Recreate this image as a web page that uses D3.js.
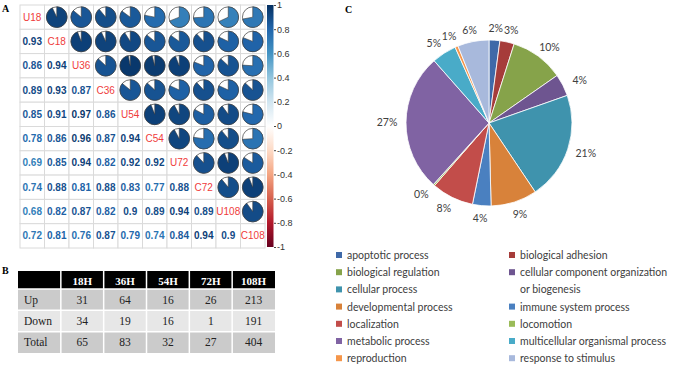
<!DOCTYPE html>
<html>
<head>
<meta charset="utf-8">
<script src="https://cdnjs.cloudflare.com/ajax/libs/d3/7.8.5/d3.min.js"></script>
<style>
	body { margin: 0; background: #fff; }
	svg { display: block; }
</style>
</head>
<body>
<svg id="fig" width="675" height="365"></svg>
<script>
//=================== DATA ====================================
var sampleLabels = ["U18", "C18", "U36", "C36", "U54", "C54", "U72", "C72", "U108", "C108"];

// lower triangle of the correlation matrix, row i = correlations with columns 0..i-1
var corrLower = [
	[],
	[0.93],
	[0.86, 0.94],
	[0.89, 0.93, 0.87],
	[0.85, 0.91, 0.97, 0.86],
	[0.78, 0.86, 0.96, 0.87, 0.94],
	[0.69, 0.85, 0.94, 0.82, 0.92, 0.92],
	[0.74, 0.88, 0.81, 0.88, 0.83, 0.77, 0.88],
	[0.68, 0.82, 0.87, 0.82, 0.9, 0.89, 0.94, 0.89],
	[0.72, 0.81, 0.76, 0.87, 0.79, 0.74, 0.84, 0.94, 0.9]
];
var colourbarTicks = [1, 0.8, 0.6, 0.4, 0.2, 0, -0.2, -0.4, -0.6, -0.8, -1];
var corrPalette = ["#67001F", "#B2182B", "#D6604D", "#F4A582", "#FDDBC7", "#FFFFFF",
	"#D1E5F0", "#92C5DE", "#4393C3", "#2166AC", "#053061"];

var tableHeader = ["18H", "36H", "54H", "72H", "108H"];
var rowNames = ["Up", "Down", "Total"];
var upCounts = [31, 64, 16, 26, 213];
var downCounts = [34, 19, 16, 1, 191];
var totalCounts = [65, 83, 32, 27, 404];

var goTerms = ["apoptotic process", "biological adhesion", "biological regulation",
	"cellular component organization or biogenesis", "cellular process", "developmental process",
	"immune system process", "localization", "locomotion", "metabolic process",
	"multicellular organismal process", "reproduction", "response to stimulus"];
var goPercent = [2.1, 2.8, 10.4, 4.3, 21.0, 9.0, 3.6, 8.2, 0.3, 26.8, 4.8, 0.6, 6.1];
var goColours = ["#3f69a8", "#a63c3a", "#86a34a", "#6e5590", "#3f93ad", "#d8823a",
	"#4a80c0", "#c24d4a", "#9abb58", "#8063a3", "#49abc8", "#f5964a", "#a8b9dc"];

//=================== SETUP ====================================
var svg = d3.select("#fig");
var sans = "'Liberation Sans', Arial, sans-serif";
var serif = "'Liberation Serif', 'Times New Roman', serif";
var office = "Lato, 'Open Sans', sans-serif";

function panelLetter(x, y, t) {
	svg.append("text").attr("x", x).attr("y", y)
		.style("font-family", serif).style("font-size", "10px").style("font-weight", "bold")
		.text(t);
}
panelLetter(2, 12, "A");
panelLetter(2, 274, "B");
panelLetter(345, 13, "C");

//=================== PANEL A : correlogram ====================================
function drawCorrelogram() {
	var n = sampleLabels.length;
	var xBand = d3.scaleBand().domain(sampleLabels).range([20, 20 + n * 24.5]);
	var yBand = d3.scaleBand().domain(sampleLabels).range([5, 5 + n * 24.3]);
	var colour = d3.scaleLinear()
		.domain(d3.range(corrPalette.length).map(function (i) { return -1 + i * 0.2; }))
		.range(corrPalette);

	var cells = [];
	sampleLabels.forEach(function (rowLab, i) {
		sampleLabels.forEach(function (colLab, j) {
			var v = null;
			if (j < i) v = corrLower[i][j];
			if (j > i) v = corrLower[j][i];
			cells.push({ row: rowLab, col: colLab, i: i, j: j, value: v });
		});
	});

	var grp = svg.append("g").classed("corr", true);

	grp.selectAll("rect.cell")
		.data(cells)
		.enter().append("rect")
		.classed("cell", true)
		.attr("x", function (d) { return xBand(d.col); })
		.attr("y", function (d) { return yBand(d.row); })
		.attr("width", xBand.bandwidth())
		.attr("height", yBand.bandwidth())
		.style("fill", "#fff")
		.style("stroke", "#dadada")
		.style("stroke-width", 1);

	// diagonal labels
	grp.selectAll("text.diag")
		.data(cells.filter(function (d) { return d.i === d.j; }))
		.enter().append("text")
		.classed("diag", true)
		.attr("x", function (d) { return xBand(d.col) + xBand.bandwidth() / 2; })
		.attr("y", function (d) { return yBand(d.row) + yBand.bandwidth() / 2; })
		.attr("text-anchor", "middle")
		.attr("dominant-baseline", "central")
		.style("font-family", sans).style("font-size", "10px")
		.style("fill", "#ef3b3b")
		.text(function (d) { return d.row; });

	// numbers in the lower triangle
	grp.selectAll("text.num")
		.data(cells.filter(function (d) { return d.j < d.i; }))
		.enter().append("text")
		.classed("num", true)
		.attr("x", function (d) { return xBand(d.col) + xBand.bandwidth() / 2; })
		.attr("y", function (d) { return yBand(d.row) + yBand.bandwidth() / 2; })
		.attr("text-anchor", "middle")
		.attr("dominant-baseline", "central")
		.style("font-family", sans).style("font-size", "10px").style("font-weight", "bold")
		.style("fill", function (d) { return colour(d.value); })
		.text(function (d) { return String(d.value); });

	// pies in the upper triangle
	var r = 10.3;
	var arc = d3.arc().innerRadius(0).outerRadius(r);
	var pies = grp.selectAll("g.pie")
		.data(cells.filter(function (d) { return d.j > d.i; }))
		.enter().append("g")
		.classed("pie", true)
		.attr("transform", function (d) {
			return "translate(" + [xBand(d.col) + xBand.bandwidth() / 2, yBand(d.row) + yBand.bandwidth() / 2] + ")";
		});
	pies.append("circle")
		.attr("r", r)
		.style("fill", "#fff")
		.style("stroke", "#3a3a3a")
		.style("stroke-width", 0.7);
	pies.append("path")
		.attr("d", function (d) { return arc({ startAngle: 0, endAngle: d.value * 2 * Math.PI }); })
		.style("fill", function (d) { return colour(d.value); })
		.style("stroke", "#3a3a3a")
		.style("stroke-width", 0.6);

	// colour bar
	var barScale = d3.scaleLinear().domain([1, -1]).range([5, 247]);
	var grad = svg.append("defs").append("linearGradient")
		.attr("id", "corrGrad").attr("x1", 0).attr("y1", 0).attr("x2", 0).attr("y2", 1);
	grad.selectAll("stop")
		.data(corrPalette.slice().reverse())
		.enter().append("stop")
		.attr("offset", function (d, i) { return (i / (corrPalette.length - 1) * 100) + "%"; })
		.attr("stop-color", function (d) { return d; });
	svg.append("rect")
		.attr("x", 267).attr("y", barScale(1))
		.attr("width", 6.5).attr("height", barScale(-1) - barScale(1))
		.style("fill", "url(#corrGrad)");

	var axis = svg.append("g")
		.attr("transform", "translate(274,0)")
		.call(d3.axisRight(barScale).tickValues(colourbarTicks).tickSize(2).tickFormat(function (d) { return String(d); }));
	axis.select(".domain").remove();
	axis.selectAll("line").style("stroke", "#444");
	axis.selectAll("text")
		.attr("x", 3)
		.style("font-family", sans).style("font-size", "9px").style("fill", "#333");
}

//=================== PANEL B : table ====================================
function drawTable() {
	var grp = svg.append("g").classed("table", true);
	var cols = ["_"].concat(tableHeader);
	var xCol = d3.scaleBand().domain(cols).range([18, 275]);
	var yRow = d3.scaleBand().domain(rowNames).range([289, 353]);
	var rows = [upCounts, downCounts, totalCounts];
	var rowFill = ["#cbcbcb", "#e7e7e7", "#cbcbcb"];

	// header
	grp.append("rect")
		.attr("x", xCol("_")).attr("y", 271)
		.attr("width", xCol.range()[1] - xCol.range()[0]).attr("height", 18)
		.style("fill", "#000");
	grp.selectAll("text.head")
		.data(tableHeader)
		.enter().append("text")
		.attr("x", function (d) { return xCol(d) + xCol.bandwidth() / 2; })
		.attr("y", 280.5)
		.attr("text-anchor", "middle").attr("dominant-baseline", "central")
		.style("font-family", serif).style("font-size", "11px").style("font-weight", "bold")
		.style("fill", "#fff")
		.text(function (d) { return d; });

	rowNames.forEach(function (name, ri) {
		grp.append("rect")
			.attr("x", xCol("_")).attr("y", yRow(name))
			.attr("width", xCol.range()[1] - xCol.range()[0]).attr("height", yRow.bandwidth())
			.style("fill", rowFill[ri]);
		grp.append("text")
			.attr("x", xCol("_") + 6).attr("y", yRow(name) + yRow.bandwidth() / 2)
			.attr("dominant-baseline", "central")
			.style("font-family", serif).style("font-size", "11.5px").style("fill", "#222")
			.text(name);
		grp.selectAll("text.r" + ri)
			.data(rows[ri])
			.enter().append("text")
			.attr("x", function (d, i) { return xCol(tableHeader[i]) + xCol.bandwidth() / 2; })
			.attr("y", yRow(name) + yRow.bandwidth() / 2)
			.attr("text-anchor", "middle").attr("dominant-baseline", "central")
			.style("font-family", serif).style("font-size", "11.5px").style("fill", "#222")
			.text(function (d) { return d; });
	});

	// white separators
	grp.selectAll("line.vsep")
		.data(tableHeader)
		.enter().append("line")
		.attr("x1", function (d) { return xCol(d); }).attr("x2", function (d) { return xCol(d); })
		.attr("y1", 271).attr("y2", 353)
		.style("stroke", "#fff").style("stroke-width", 1.5);
	grp.selectAll("line.hsep")
		.data(rowNames)
		.enter().append("line")
		.attr("x1", 18).attr("x2", 275)
		.attr("y1", function (d) { return yRow(d); }).attr("y2", function (d) { return yRow(d); })
		.style("stroke", "#fff").style("stroke-width", 1.5);
}

//=================== PANEL C : GO pie ====================================
function drawGoPie() {
	var cx = 489, cy = 123, r = 83;
	var data = goTerms.map(function (t, i) { return { term: t, value: goPercent[i], colour: goColours[i] }; });
	var pie = d3.pie().sort(null).value(function (d) { return d.value; });
	var arc = d3.arc().innerRadius(0).outerRadius(r);
	var grp = svg.append("g").attr("transform", "translate(" + [cx, cy] + ")");

	var arcs = pie(data);
	grp.selectAll("path")
		.data(arcs)
		.enter().append("path")
		.attr("d", arc)
		.style("fill", function (d) { return d.data.colour; })
		.style("stroke", "#fff")
		.style("stroke-width", 0.8);

	grp.selectAll("text")
		.data(arcs)
		.enter().append("text")
		.attr("x", function (d) {
			var a = (d.startAngle + d.endAngle) / 2;
			return (r + 12) * Math.sin(a) + 7 * Math.sin(a);
		})
		.attr("y", function (d) {
			var a = (d.startAngle + d.endAngle) / 2;
			return -(r + 12) * Math.cos(a);
		})
		.attr("text-anchor", "middle").attr("dominant-baseline", "central")
		.style("font-family", office).style("font-size", "10.5px").style("fill", "#404040")
		.text(function (d) { return Math.round(d.data.value) + "%"; });

	// legend: two columns filled row by row, long names wrap and take an extra row
	var colX = [336, 509];
	var rowY = d3.scaleLinear().domain([0, 1]).range([255, 272.2]);
	var taken = {};
	var slot = 0;
	data.forEach(function (d) {
		var lines = [d.term];
		if (d.term.length > 32) {
			var cut = d.term.lastIndexOf(" ", 32);
			lines = [d.term.slice(0, cut), d.term.slice(cut + 1)];
		}
		while (taken[slot]) slot++;
		var c = slot % 2, row = Math.floor(slot / 2);
		for (var k = 0; k < lines.length; k++) taken[slot + 2 * k] = true;
		svg.append("rect")
			.attr("x", colX[c]).attr("y", rowY(row) - 3)
			.attr("width", 6).attr("height", 6)
			.style("fill", d.colour);
		lines.forEach(function (ln, k) {
			svg.append("text")
				.attr("x", colX[c] + 11).attr("y", rowY(row + k))
				.attr("dominant-baseline", "central")
				.style("font-family", office).style("font-size", "10.5px").style("fill", "#404040")
				.text(ln);
		});
	});
}

drawCorrelogram();
drawTable();
drawGoPie();
</script>
</body>
</html>
